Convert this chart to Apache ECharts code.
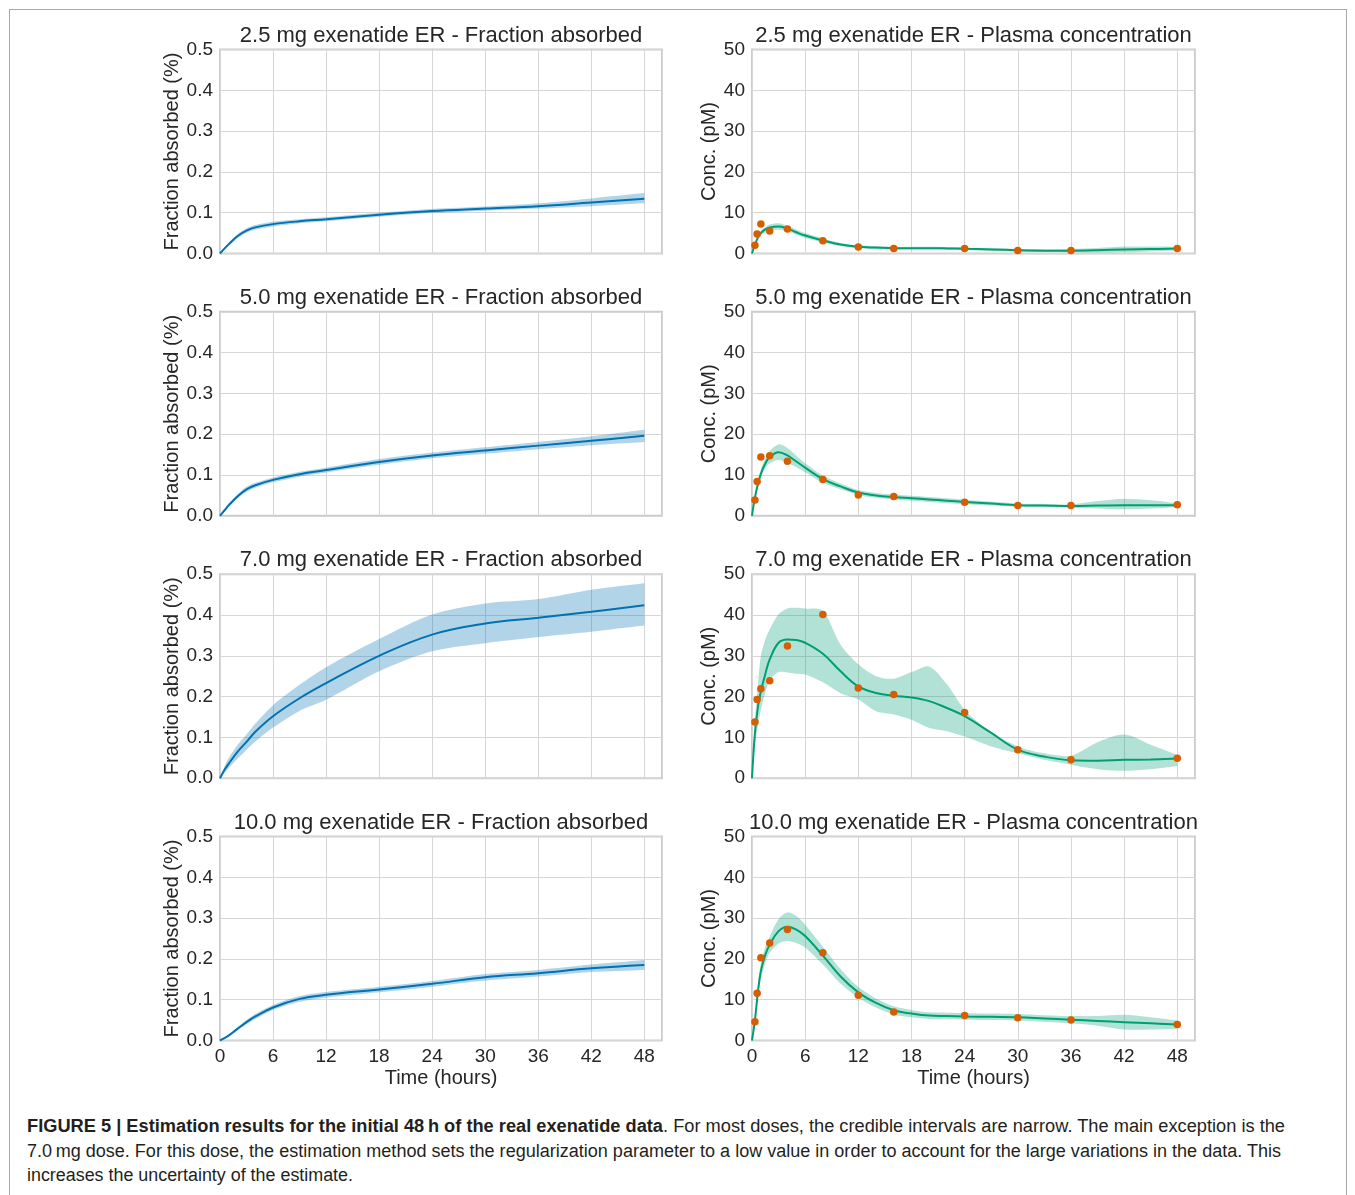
<!DOCTYPE html>
<html>
<head>
<meta charset="utf-8">
<script src="https://cdn.jsdelivr.net/npm/echarts/dist/echarts.min.js"></script>
<style>
html,body{margin:0;padding:0;background:#fff;width:1355px;height:1195px;overflow:hidden;}
#frame{position:absolute;left:9px;top:9px;width:1336px;height:1240px;border:1px solid #a9a9a9;border-bottom:none;z-index:0;}
#chart{position:absolute;left:0;top:0;width:1355px;height:1100px;z-index:1;}
#caption{position:absolute;left:27px;top:1114px;font-family:'Liberation Sans',Arial,sans-serif;font-size:18px;color:#231f20;line-height:24.7px;white-space:nowrap;z-index:2;}
#caption .ln{display:block;white-space:nowrap;transform-origin:0 0;}
</style>
</head>
<body>
<div id="frame"></div>
<div id="chart"></div>
<div id="caption">
<div class="ln"><span class="m"><b>FIGURE 5 | Estimation results for the initial 48&thinsp;h of the real exenatide data</b>. For most doses, the credible intervals are narrow. The main exception is the</span></div>
<div class="ln"><span class="m">7.0&thinsp;mg dose. For this dose, the estimation method sets the regularization parameter to a low value in order to account for the large variations in the data. This</span></div>
<div class="ln"><span class="m">increases the uncertainty of the estimate.</span></div>
</div>
<script>
// ---------------- data ----------------
const TITLES = [
  '2.5 mg exenatide ER - Fraction absorbed', '2.5 mg exenatide ER - Plasma concentration',
  '5.0 mg exenatide ER - Fraction absorbed', '5.0 mg exenatide ER - Plasma concentration',
  '7.0 mg exenatide ER - Fraction absorbed', '7.0 mg exenatide ER - Plasma concentration',
  '10.0 mg exenatide ER - Fraction absorbed', '10.0 mg exenatide ER - Plasma concentration'
];
const Y_NAME_FA = 'Fraction absorbed (%)';
const Y_NAME_PK = 'Conc. (pM)';
const X_NAME = 'Time (hours)';

// time grid (hours) for fraction absorbed curves
const T_FA = [0, 0.5, 1, 2, 3, 4, 6, 9, 12, 18, 24, 30, 36, 42, 48];
const FA25_mean = [0, 0.012, 0.023, 0.043, 0.056, 0.064, 0.072, 0.079, 0.084, 0.095, 0.104, 0.110, 0.116, 0.125, 0.134];
const FA25_lo   = [0, 0.009, 0.019, 0.038, 0.051, 0.058, 0.066, 0.074, 0.079, 0.090, 0.099, 0.105, 0.110, 0.116, 0.123];
const FA25_hi   = [0, 0.015, 0.027, 0.048, 0.062, 0.070, 0.078, 0.084, 0.089, 0.100, 0.109, 0.115, 0.123, 0.135, 0.148];

const FA50_mean = [0, 0.013, 0.026, 0.048, 0.065, 0.075, 0.088, 0.102, 0.112, 0.132, 0.148, 0.160, 0.172, 0.184, 0.196];
const FA50_lo   = [0, 0.010, 0.022, 0.043, 0.059, 0.069, 0.082, 0.096, 0.106, 0.125, 0.141, 0.152, 0.163, 0.173, 0.181];
const FA50_hi   = [0, 0.016, 0.030, 0.053, 0.071, 0.081, 0.094, 0.108, 0.118, 0.139, 0.155, 0.168, 0.181, 0.195, 0.211];

const FA70_mean = [0, 0.020, 0.036, 0.065, 0.089, 0.114, 0.152, 0.196, 0.233, 0.300, 0.352, 0.379, 0.393, 0.408, 0.424];
const FA70_lo   = [0, 0.013, 0.025, 0.048, 0.070, 0.090, 0.124, 0.165, 0.192, 0.262, 0.311, 0.331, 0.346, 0.359, 0.374];
const FA70_hi   = [0, 0.028, 0.050, 0.082, 0.107, 0.134, 0.179, 0.229, 0.272, 0.341, 0.401, 0.428, 0.439, 0.462, 0.478];

const FA100_mean = [0, 0.006, 0.0125, 0.029, 0.045, 0.059, 0.081, 0.102, 0.112, 0.125, 0.139, 0.155, 0.165, 0.177, 0.185];
const FA100_lo   = [0, 0.004, 0.0095, 0.025, 0.040, 0.053, 0.075, 0.095, 0.105, 0.118, 0.132, 0.147, 0.157, 0.168, 0.173];
const FA100_hi   = [0, 0.008, 0.0155, 0.033, 0.050, 0.065, 0.087, 0.109, 0.119, 0.132, 0.146, 0.163, 0.173, 0.186, 0.197];

// time grid (hours) for plasma concentration curves
const T_PK = [0, 0.33, 0.67, 1, 1.5, 2, 3, 4, 5, 6, 8, 10, 12, 14, 16, 18, 20, 22, 24, 27, 30, 33, 36, 39, 42, 45, 48];
const PK25_mean = [0, 2.2, 3.9, 5.0, 5.9, 6.4, 6.6, 6.1, 5.2, 4.4, 3.2, 2.2, 1.65, 1.45, 1.3, 1.3, 1.3, 1.25, 1.15, 1.0, 0.8, 0.7, 0.7, 0.8, 1.0, 1.1, 1.2];
const PK25_lo   = [0, 1.9, 3.5, 4.5, 5.3, 5.7, 5.8, 5.4, 4.6, 3.8, 2.7, 1.8, 1.3, 1.1, 0.95, 0.95, 0.95, 0.9, 0.8, 0.65, 0.45, 0.35, 0.3, 0.25, 0.3, 0.5, 0.75];
const PK25_hi   = [0, 2.5, 4.3, 5.5, 6.5, 7.1, 7.4, 6.8, 5.9, 5.0, 3.7, 2.6, 2.0, 1.8, 1.65, 1.65, 1.65, 1.6, 1.5, 1.35, 1.15, 1.05, 1.1, 1.35, 1.7, 1.7, 1.65];

const PK50_mean = [0, 4.5, 7.8, 10.3, 12.8, 14.4, 15.6, 14.8, 13.3, 11.8, 9.0, 7.2, 5.7, 5.0, 4.6, 4.3, 4.0, 3.7, 3.4, 3.0, 2.6, 2.5, 2.4, 2.5, 2.6, 2.6, 2.6];
const PK50_lo   = [0, 3.9, 6.9, 9.3, 11.6, 12.9, 13.7, 13.0, 11.9, 10.7, 8.1, 6.5, 5.1, 4.4, 4.0, 3.7, 3.4, 3.1, 2.85, 2.5, 2.2, 2.1, 2.0, 1.8, 1.6, 1.8, 2.1];
const PK50_hi   = [0, 5.1, 8.7, 11.3, 14.0, 15.9, 17.5, 16.6, 14.7, 12.9, 9.9, 7.9, 6.3, 5.6, 5.2, 4.9, 4.6, 4.3, 3.95, 3.5, 3.0, 2.9, 2.8, 3.6, 4.2, 3.8, 3.1];

const PK70_mean = [0, 11, 17.5, 21.3, 25.5, 29.1, 33.2, 34.0, 33.9, 33.2, 30.5, 26.2, 22.5, 20.9, 20.2, 19.8, 18.9, 17.2, 15.2, 11.1, 7.0, 5.3, 4.4, 4.3, 4.5, 4.6, 4.8];
const PK70_lo   = [0, 8, 13, 16.8, 21, 24, 26, 25.9, 25.6, 25.4, 23.5, 20.8, 19.3, 16.4, 15.6, 14.3, 12.3, 11.5, 10.2, 7.8, 6.1, 4.5, 3.3, 2.2, 1.8, 2.2, 3.0];
const PK70_hi   = [0, 14, 23, 30, 34, 36.5, 40.2, 41.6, 41.8, 41.6, 41.0, 32.7, 27.9, 25.0, 24.4, 26.0, 27.4, 23.0, 16.8, 11.3, 7.8, 6.1, 5.5, 8.8, 10.7, 8.2, 5.7];

const PK100_mean = [0, 5, 12, 17, 21, 23.5, 26.8, 27.9, 27.2, 25.6, 20.8, 15.7, 11.8, 9.2, 7.4, 6.6, 6.1, 6.0, 5.9, 5.8, 5.7, 5.4, 5.1, 4.8, 4.5, 4.2, 3.9];
const PK100_lo   = [0, 4, 10.5, 15, 19, 21.5, 23.8, 24.4, 23.9, 22.8, 18.6, 13.9, 10.5, 8.1, 6.4, 5.7, 5.3, 5.2, 5.1, 5.0, 4.9, 4.6, 4.2, 3.6, 2.7, 2.7, 2.9];
const PK100_hi   = [0, 6, 13.5, 19, 23, 25.5, 29.8, 31.4, 30.5, 28.4, 23.0, 17.5, 13.1, 10.3, 8.4, 7.5, 6.9, 6.8, 6.7, 6.6, 6.5, 6.2, 6.0, 6.0, 6.3, 5.7, 4.9];

// observed plasma concentrations
const T_OBS = [0.33, 0.58, 1, 2, 4, 8, 12, 16, 24, 30, 36, 48];
const OBS25  = [2.0, 4.75, 7.2, 5.5, 6.0, 3.1, 1.6, 1.25, 1.25, 0.75, 0.75, 1.25];
const OBS50  = [3.9, 8.4, 14.4, 14.7, 13.4, 8.9, 5.1, 4.7, 3.3, 2.5, 2.5, 2.7];
const OBS70  = [13.8, 19.3, 21.9, 23.9, 32.4, 40.1, 22.1, 20.5, 16.1, 7.0, 4.5, 4.9];
const OBS100 = [4.6, 11.6, 20.3, 23.9, 27.2, 21.5, 11.1, 7.0, 6.1, 5.6, 5.0, 3.9];

// ---------------- layout / style ----------------
const FONT = "'Liberation Sans', Arial, Helvetica, sans-serif";
const TXT = '#262626';
const GRID_LEFT = [220, 752];
const GRID_W = [442, 443];
const GRID_TOP = [49.5, 311.8, 574.2, 836.5];
const GRID_H = 204;
const CAPTION_WIDTHS = [1258, 1254, 326];

const PANELS = [
  {kind:'FA', t:T_FA, mean:FA25_mean, lo:FA25_lo, hi:FA25_hi},
  {kind:'PK', t:T_PK, mean:PK25_mean, lo:PK25_lo, hi:PK25_hi, obs:OBS25},
  {kind:'FA', t:T_FA, mean:FA50_mean, lo:FA50_lo, hi:FA50_hi},
  {kind:'PK', t:T_PK, mean:PK50_mean, lo:PK50_lo, hi:PK50_hi, obs:OBS50},
  {kind:'FA', t:T_FA, mean:FA70_mean, lo:FA70_lo, hi:FA70_hi},
  {kind:'PK', t:T_PK, mean:PK70_mean, lo:PK70_lo, hi:PK70_hi, obs:OBS70},
  {kind:'FA', t:T_FA, mean:FA100_mean, lo:FA100_lo, hi:FA100_hi},
  {kind:'PK', t:T_PK, mean:PK100_mean, lo:PK100_lo, hi:PK100_hi, obs:OBS100}
];

const grids = [], xAxes = [], yAxes = [], series = [], graphics = [];

PANELS.forEach(function (p, i) {
  const row = Math.floor(i / 2), col = i % 2;
  const isFA = p.kind === 'FA';
  const lineColor = isFA ? '#0072b2' : '#009e73';
  const bandColor = isFA ? 'rgba(0,114,178,0.30)' : 'rgba(0,158,115,0.30)';
  const left = GRID_LEFT[col], top = GRID_TOP[row], w = GRID_W[col];

  grids.push({left: left, top: top, width: w, height: GRID_H, show: true,
    borderColor: '#cccccc', borderWidth: 2, backgroundColor: 'transparent'});

  xAxes.push({type: 'value', gridIndex: i, min: 0, max: 50, interval: 6,
    axisLine: {show: false}, axisTick: {show: false},
    axisLabel: {show: row === 3, margin: 7, fontSize: 19, color: TXT, fontFamily: FONT,
      formatter: function (v) { return (v % 6 === 0 && v <= 48) ? String(v) : ''; }},
    splitLine: {show: true, lineStyle: {color: '#d6d6d6', width: 1}}});

  yAxes.push({type: 'value', gridIndex: i, min: 0, max: isFA ? 0.5 : 50, interval: isFA ? 0.1 : 10,
    axisLine: {show: false}, axisTick: {show: false},
    axisLabel: {margin: 7, fontSize: 19, color: TXT, fontFamily: FONT, padding: [4, 0, 0, 0],
      formatter: function (v) { return isFA ? v.toFixed(1) : String(Math.round(v)); }},
    splitLine: {show: true, lineStyle: {color: '#d6d6d6', width: 1}}});

  // credible band
  series.push({type: 'custom', xAxisIndex: i, yAxisIndex: i, silent: true, z: 1,
    data: [[0, 0]],
    renderItem: function (params, api) {
      const pts = [];
      const n = p.t.length;
      for (let k = 0; k < n; k++) pts.push(api.coord([p.t[k], p.hi[k]]));
      pts.push(api.coord([p.t[n - 1], p.hi[n - 1]]));
      pts.push(api.coord([p.t[n - 1], p.lo[n - 1]]));
      for (let k = n - 1; k >= 0; k--) pts.push(api.coord([p.t[k], p.lo[k]]));
      return {type: 'polygon', shape: {points: pts, smooth: 0.3}, style: {fill: bandColor}};
    }});

  // mean estimate
  series.push({type: 'line', xAxisIndex: i, yAxisIndex: i, silent: true, z: 3,
    data: p.t.map(function (t, k) { return [t, p.mean[k]]; }),
    symbol: 'none', smooth: 0.4,
    lineStyle: {color: lineColor, width: 2}});

  if (p.obs) {
    series.push({type: 'scatter', xAxisIndex: i, yAxisIndex: i, silent: true, z: 4,
      data: T_OBS.map(function (t, k) { return [t, p.obs[k]]; }),
      symbolSize: 7.5, itemStyle: {color: '#d55e00', opacity: 1}});
  }

  // title
  graphics.push({type: 'text', x: left + w / 2, y: top - 14, silent: true,
    style: {text: TITLES[i], fontSize: 22, fontFamily: FONT, fill: TXT,
      align: 'center', verticalAlign: 'middle', textAlign: 'center', textVerticalAlign: 'middle'}});
  // y axis name
  graphics.push({type: 'text', x: isFA ? left - 48 : left - 43, y: top + GRID_H / 2, rotation: Math.PI / 2, silent: true,
    style: {text: isFA ? Y_NAME_FA : Y_NAME_PK, fontSize: 20, fontFamily: FONT, fill: TXT,
      align: 'center', verticalAlign: 'middle', textAlign: 'center', textVerticalAlign: 'middle'}});
  if (row === 3) {
    graphics.push({type: 'text', x: left + w / 2, y: top + GRID_H + 38, silent: true,
      style: {text: X_NAME, fontSize: 20, fontFamily: FONT, fill: TXT,
        align: 'center', verticalAlign: 'middle', textAlign: 'center', textVerticalAlign: 'middle'}});
  }
});

const chart = echarts.init(document.getElementById('chart'), null, {renderer: 'canvas'});
chart.setOption({
  animation: false,
  backgroundColor: 'transparent',
  textStyle: {fontFamily: FONT},
  grid: grids, xAxis: xAxes, yAxis: yAxes, series: series, graphic: graphics
});

// fit each caption line to the width of the original caption line
(function () {
  const lines = document.querySelectorAll('#caption .ln');
  lines.forEach(function (ln, k) {
    const w = ln.querySelector('.m').getBoundingClientRect().width;
    if (w > 0) ln.style.transform = 'scaleX(' + (CAPTION_WIDTHS[k] / w) + ')';
  });
})();
</script>
</body>
</html>
